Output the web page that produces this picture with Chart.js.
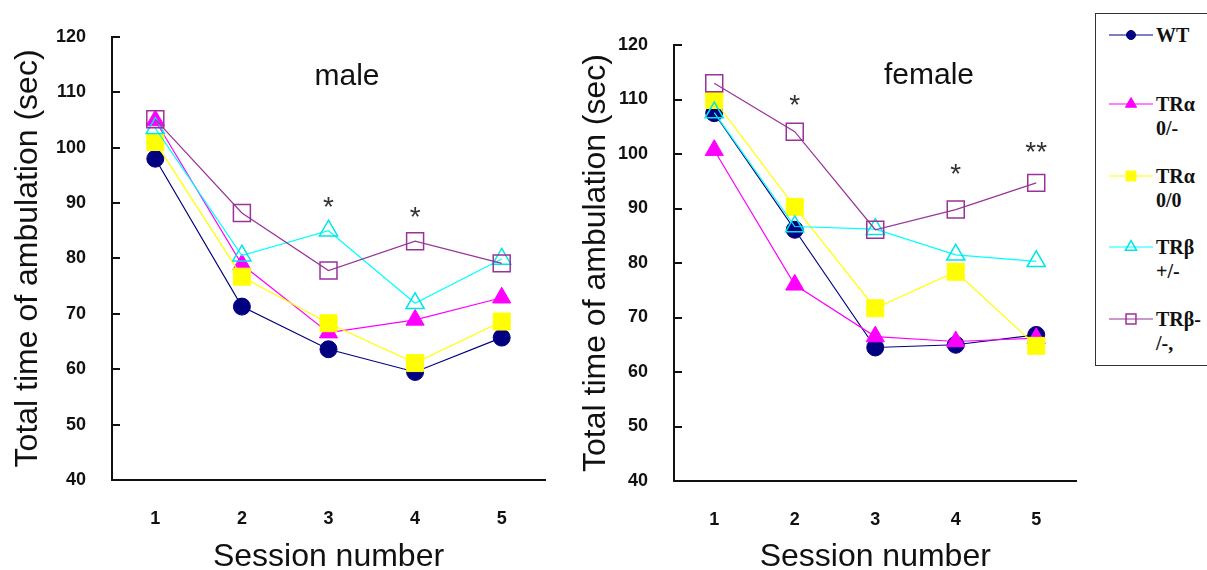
<!DOCTYPE html>
<html>
<head>
<meta charset="utf-8">
<script src="https://cdn.jsdelivr.net/npm/chart.js@4.4.1/dist/chart.umd.min.js"></script>
<style>
  body { margin: 0; background: #fff; width: 1207px; height: 570px; overflow: hidden; position: relative; }
  canvas.plot { position: absolute; top: 0; }
  #male { left: 0; }
  #female { left: 560px; }
  #legend { position: absolute; left: 1095px; top: 13px; width: 130px; height: 353px; border: 1.5px solid #333; box-sizing: border-box;
    font-family: 'Liberation Serif', 'Times New Roman', serif; font-weight: bold; font-size: 20px; color: #111; }
  .item { position: absolute; left: 0; width: 120px; }
  .item canvas { position: absolute; left: 13px; }
  .item .txt { position: absolute; left: 60px; line-height: 24px; white-space: nowrap; }
</style>
</head>
<body>
<canvas id="male" class="plot" width="560" height="570"></canvas>
<canvas id="female" class="plot" width="530" height="570"></canvas>
<div id="legend"></div>
<script>
const sessions = ['1', '2', '3', '4', '5']
const yTicks = [40, 50, 60, 70, 80, 90, 100, 110, 120]
const legendLines = [['WT'], ['TRα', '0/-'], ['TRα', '0/0'], ['TRβ', '+/-'], ['TRβ-', '/-,']]
const groups = legendLines.map(l => l.join(' '))

// male
const maleWT = [98.0, 71.3, 63.6, 59.5, 65.7]
const maleTRa0m = [104.9, 78.9, 66.6, 68.9, 72.9]
const maleTRa00 = [101.0, 76.7, 68.3, 61.1, 68.6]
const maleTRbHet = [103.5, 80.5, 85.0, 71.9, 79.9]
const maleTRbKO = [105.1, 88.2, 77.8, 83.1, 79.1]
const maleStarSessions = ['3', '4']
const maleStarValues = [89.6, 87.9]
const maleStarMarks = ['*', '*']

// female
const femaleWT = [107.5, 86.1, 64.5, 65.0, 66.8]
const femaleTRa0m = [100.7, 76.0, 66.5, 65.6, 66.2]
const femaleTRa00 = [109.9, 90.3, 71.7, 78.4, 64.8]
const femaleTRbHet = [107.6, 86.7, 86.2, 81.5, 80.3]
const femaleTRbKO = [113.0, 104.1, 86.1, 89.8, 94.7]
const femaleStarSessions = ['2', '4', '5']
const femaleStarValues = [109.4, 96.7, 100.7]
const femaleStarMarks = ['*', '*', '**']

const sans = "'Liberation Sans', Arial, sans-serif"
const ink = '#111'

const styles = [
  { line: '#000080', fill: '#000080', edge: '#000080', shape: 'circle', r: 8.5, lr: 4.5, bw: 1 },
  { line: '#ff00ff', fill: '#ff00ff', edge: '#ff00ff', shape: 'triangle', r: 10.5, lr: 6.5, bw: 1 },
  { line: '#ffff00', fill: '#ffff00', edge: '#ffff00', shape: 'rect', r: 12, lr: 7, bw: 1 },
  { line: '#00ffff', fill: 'rgba(255,255,255,0)', edge: '#00e5e5', shape: 'triangle', r: 10.5, lr: 6.5, bw: 1.5 },
  { line: '#993399', fill: 'rgba(255,255,255,0)', edge: '#993399', shape: 'rect', r: 12, lr: 7, bw: 1.5 }
]

// inward y ticks, panel caption and significance stars
const makeDecor = (title, titleOffset, titleY, starSessions, starValues, starMarks) => ({
  id: 'decor',
  afterDraw (chart) {
    const { ctx, chartArea } = chart
    const x = chart.scales.x
    const y = chart.scales.y
    ctx.save()
    ctx.strokeStyle = ink
    ctx.lineWidth = 2
    y.ticks.forEach(t => {
      const py = Math.round(y.getPixelForValue(t.value))
      ctx.beginPath()
      ctx.moveTo(chartArea.left, py)
      ctx.lineTo(chartArea.left + 8, py)
      ctx.stroke()
    })
    ctx.fillStyle = ink
    ctx.font = '30px ' + sans
    ctx.textAlign = 'center'
    ctx.textBaseline = 'middle'
    ctx.fillText(title, chartArea.left + titleOffset, titleY)
    ctx.fillStyle = '#333'
    ctx.font = '28px ' + sans
    ctx.textBaseline = 'alphabetic'
    starSessions.forEach((s, i) => {
      const px = x.getPixelForValue(sessions.indexOf(s))
      const py = y.getPixelForValue(starValues[i]) + 11
      ctx.fillText(starMarks[i], px, py)
    })
    ctx.restore()
  }
})

const makeChart = (id, series, opt, decor) => new Chart(document.getElementById(id), {
  type: 'line',
  data: {
    labels: sessions,
    datasets: series.map((vals, i) => ({
      label: groups[i],
      data: vals,
      borderColor: styles[i].line,
      backgroundColor: styles[i].fill,
      pointBackgroundColor: styles[i].fill,
      pointBorderColor: styles[i].edge,
      pointStyle: styles[i].shape,
      pointRadius: styles[i].r,
      pointBorderWidth: styles[i].bw,
      borderWidth: 1.2,
      tension: 0,
      order: series.length - i
    }))
  },
  options: {
    responsive: false,
    animation: false,
    layout: { padding: { left: 0, top: opt.top, right: opt.right, bottom: 0 } },
    plugins: { legend: { display: false }, tooltip: { enabled: false } },
    scales: {
      x: {
        type: 'category',
        offset: true,
        grid: { display: false, drawTicks: false },
        border: { color: ink, width: 2 },
        ticks: { padding: 28, color: ink, font: { family: sans, size: 18, weight: 'bold' } },
        title: { display: true, text: 'Session number', color: ink, font: { family: sans, size: 32, lineHeight: 0.8 }, padding: 0 },
        afterFit (s) { s.height = opt.xh }
      },
      y: {
        min: 40,
        max: 120,
        grid: { display: false, drawTicks: false },
        border: { color: ink, width: 2 },
        ticks: { padding: 26, color: ink, font: { family: sans, size: 18, weight: 'bold' } },
        afterBuildTicks (s) { s.ticks = yTicks.map(v => ({ value: v })) },
        title: { display: true, text: 'Total time of ambulation (sec)', color: ink, font: { family: sans, size: 32, lineHeight: 1 }, padding: { top: opt.ytp, bottom: 0 } },
        afterFit (s) { s.width = opt.yw }
      }
    }
  },
  plugins: [decor]
})

makeChart('male', [maleWT, maleTRa0m, maleTRa00, maleTRbHet, maleTRbKO],
  { top: 31, right: 15, yw: 112, xh: 90, ytp: 12 },
  makeDecor('male', 235, 77, maleStarSessions, maleStarValues, maleStarMarks))

makeChart('female', [femaleWT, femaleTRa0m, femaleTRa00, femaleTRbHet, femaleTRbKO],
  { top: 45, right: 7, yw: 114, xh: 89, ytp: 20 },
  makeDecor('female', 255, 76, femaleStarSessions, femaleStarValues, femaleStarMarks))

// legend
const legendY = [35, 104, 176, 247, 319]
const box = document.getElementById('legend')
legendLines.forEach((lines, i) => {
  const item = document.createElement('div')
  item.className = 'item'
  item.style.top = (legendY[i] - 14.5 - 12) + 'px'
  const c = document.createElement('canvas')
  c.width = 44
  c.height = 20
  c.style.top = '2px'
  const g = c.getContext('2d')
  g.strokeStyle = styles[i].line
  g.lineWidth = 1.2
  g.beginPath()
  g.moveTo(0, 10)
  g.lineTo(44, 10)
  g.stroke()
  g.fillStyle = styles[i].fill
  g.strokeStyle = styles[i].edge
  g.lineWidth = styles[i].bw
  Chart.helpers.drawPoint(g, { pointStyle: styles[i].shape, radius: styles[i].lr, rotation: 0, borderWidth: styles[i].bw }, 22, 10)
  const t = document.createElement('div')
  t.className = 'txt'
  t.innerHTML = lines.join('<br>')
  item.appendChild(c)
  item.appendChild(t)
  box.appendChild(item)
})
</script>
</body>
</html>
